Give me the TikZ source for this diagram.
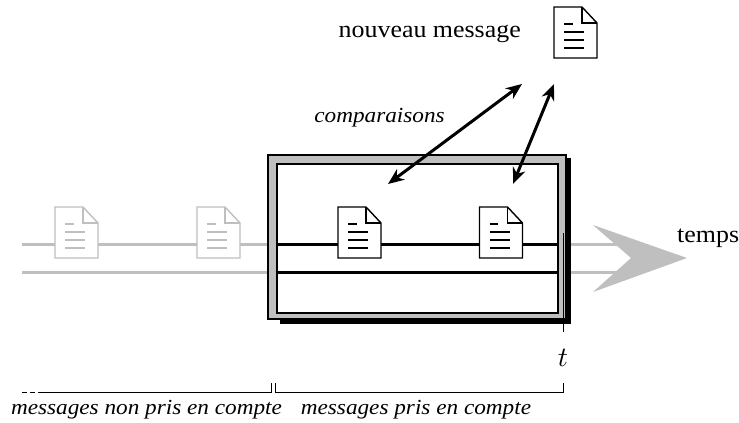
\documentclass[tikz,border=0pt]{standalone}
\usepackage{fontspec}
\setmainfont[FakeStretch=1.08]{Liberation Serif}
\usetikzlibrary{arrows.meta}

\definecolor{fadegray}{gray}{0.75}

\tikzset{
  doc/.style={minimum width=43pt, minimum height=51pt, inner sep=0pt},
  txt/.style={inner sep=0pt, font=\fontsize{24}{28}\selectfont},
  itxt/.style={inner sep=0pt, font=\fontsize{21.5}{26}\selectfont\itshape},
  timeline/.style={line width=3pt, line cap=butt},
  compare/.style={line width=3pt, <->, >={Stealth[length=16pt,width=13pt,inset=5pt]}},
  bracket/.style={line width=1pt},
}

% a message at a node position
\newcommand{\Message}[3]{
  \node[doc] (#1) at (#2) {};
  \begin{scope}[shift={(#1.center)}, draw=#3, line width=1.4pt]
    \draw[fill=white] (-21.5,-25.5) -- (6.5,-25.5) -- (21.5,-9.5) -- (21.5,25.5) -- (-21.5,25.5) -- cycle;
    \draw (6.5,-25.5) -- (6.5,-9.5) -- (21.5,-9.5);
    \draw[line width=2pt] (-11.5,-8.5) -- (-3,-8.5);
    \foreach \y in {-0.5,7.5,15.5}
      \draw[line width=2pt] (-11.5,\y) -- (8.5,\y);
  \end{scope}
}

\begin{document}
\begin{tikzpicture}[x=1pt, y=-1pt]
    \useasboundingbox (0,0) rectangle (739,423);

    % time line and its arrow
    \coordinate (l1) at (22,244);
    \coordinate (l2) at (22,272);
    \coordinate (e1) at (620,244);
    \coordinate (e2) at (620,272);
    \draw[timeline, fadegray] (l1) -- (e1);
    \draw[timeline, fadegray] (l2) -- (e2);
    \fill[fadegray] (593,225) -- (687,258) -- (593,292) -- (631,258) -- cycle;

    % the window
    \node[fill=black, minimum width=291pt, minimum height=166pt, inner sep=0pt] (shadow) at (425.5,241) {};
    \node[draw=black, line width=1.5pt, fill=fadegray, minimum width=298pt, minimum height=164pt, inner sep=0pt] (box) at (417,237) {};
    \node[draw=black, line width=2pt, fill=white, minimum width=281pt, minimum height=149pt, inner sep=0pt] (inner) at (417,238) {};

    \coordinate (b1) at (inner.west |- l1);
    \coordinate (b2) at (inner.west |- l2);
    \coordinate (c1) at (inner.east |- l1);
    \coordinate (c2) at (inner.east |- l2);
    \draw[timeline, black] (b1) -- (c1);
    \draw[timeline, black] (b2) -- (c2);

    \Message{old1}{76.5,232.5}{fadegray}
    \Message{old2}{218.5,232.5}{fadegray}
    \Message{win1}{359.5,232.5}{black}
    \Message{win2}{501,232.5}{black}
    \Message{new}{575.5,32.5}{black}

    % instant t
    \node[inner sep=6pt, scale=2.8] (t) at (563,358) {$t$};
    \coordinate (ttop) at (563,233);
    \draw[line width=1pt] (ttop) -- (t.north);

    % comparisons
    \node[txt, anchor=base east] (newlab) at (521,37) {nouveau message};
    \node[itxt, anchor=base] (cmp) at (379.5,122) {comparaisons};
    \coordinate (n1) at (522,84);
    \coordinate (n2) at (554,84);
    \coordinate (m1) at (388,184);
    \coordinate (m2) at (513,184);
    \draw[compare] (n1) -- (m1);
    \draw[compare] (n2) -- (m2);

    \node[txt, anchor=base west] (temps) at (677,242) {temps};

    % brackets
    \coordinate (a0) at (22,392);
    \coordinate (a1) at (38,392);
    \coordinate (a2) at (271.5,392);
    \coordinate (a3) at (271.5,383);
    \coordinate (d1) at (275.5,383);
    \coordinate (d2) at (275.5,392);
    \coordinate (d3) at (563,392);
    \coordinate (d4) at (563,383);
    \draw[bracket, dash pattern=on 4.5pt off 3.5pt] (a0) -- (a1);
    \draw[bracket] (a1) -- (a2) -- (a3);
    \draw[bracket] (d1) -- (d2) -- (d3) -- (d4);
    \node[itxt, anchor=base] (nonpris) at (146.5,414) {messages non pris en compte};
    \node[itxt, anchor=base] (pris) at (416,414) {messages pris en compte};
  \end{tikzpicture}
\end{document}
